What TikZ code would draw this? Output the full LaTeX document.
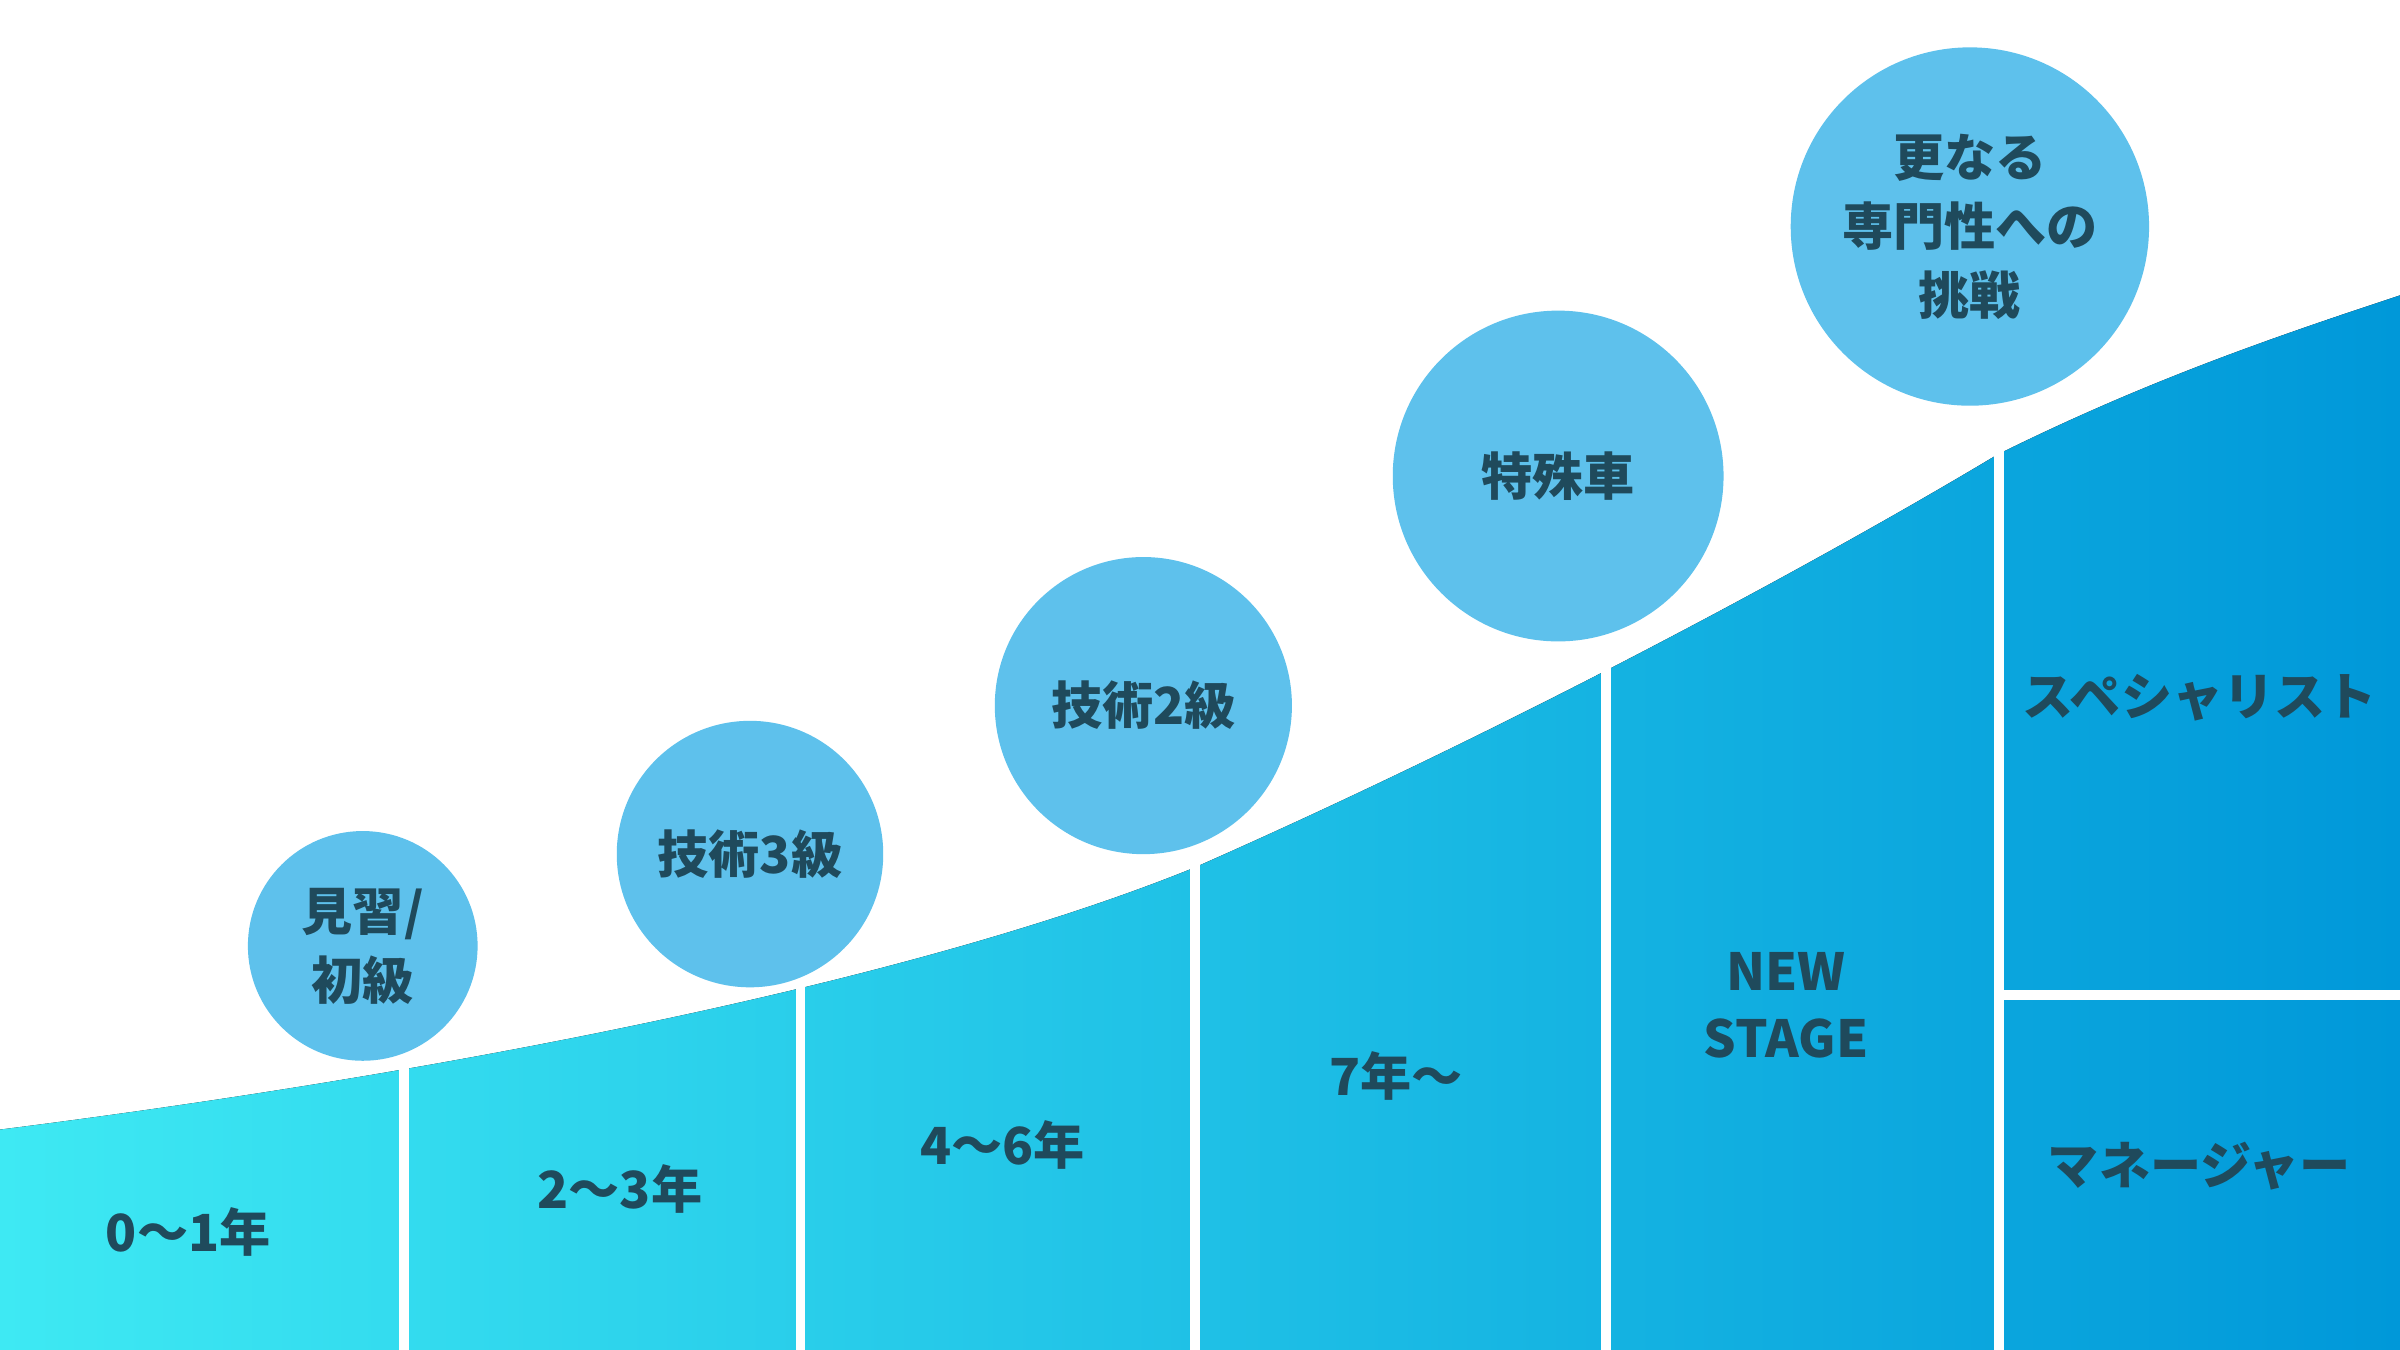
\documentclass[tikz,border=0pt]{standalone}
\usepackage{fontspec}
\setmainfont{Noto Sans CJK JP}
\begin{document}
\begin{tikzpicture}[x=0.01cm,y=-0.01cm]

% styles
\tikzset{
  etape/.style={circle,fill=bulle,inner sep=0pt,text centered,text=encre,font=\bfseries\fontsize{9.5}{12.8}\selectfont,align=center},
  libelle/.style={text=encre,font=\bfseries\fontsize{9.5}{12.5}\selectfont,align=center},
  separ/.style={white,line width=0.065cm}
}
\definecolor{bulle}{HTML}{5EC1EC}
\definecolor{encre}{HTML}{1F4A5C}
\definecolor{gauche}{HTML}{3EE9F3}
\definecolor{droite}{HTML}{0098D9}

\useasboundingbox[fill=white] (0,0) rectangle (1568,882);

% la courbe
\fill[left color=gauche,right color=droite] (0,882) -- (0,738)
  .. controls (300,700) and (600,640) .. (780,567)
  .. controls (1000,470) and (1200,360) .. (1305,297)
  .. controls (1400,250) and (1480,222) .. (1568,193) -- (1568,882) -- cycle;

% séparations
\foreach \x in {264,523,781,1049,1306}
  \draw[separ] (\x,882) -- (\x,150);
\draw[separ] (1306,650) -- (1568,650);

% les bulles
\node[etape,minimum size=1.50cm] (b1) at (237,618) {見習/\\初級};
\node[etape,minimum size=1.74cm] (b2) at (490,558) {技術3級};
\node[etape,minimum size=1.94cm] (b3) at (747,461) {技術2級};
\node[etape,minimum size=2.16cm] (b4) at (1018,311) {特殊車};
\node[etape,minimum size=2.34cm] (b5) at (1287,148) {更なる\\専門性への\\挑戦};

% les libellés
\node[libelle] (a1) at (123,805) {0〜1年};
\node[libelle] (a2) at (405,777) {2〜3年};
\node[libelle] (a3) at (655,748) {4〜6年};
\node[libelle] (a4) at (912,703) {7年〜};
\node[libelle] (a5) at (1167,657) {NEW\\STAGE};
\node[libelle] (a6) at (1437,456) {スペシャリスト};
\node[libelle] (a7) at (1437,762) {マネージャー};

\end{tikzpicture}
\end{document}
